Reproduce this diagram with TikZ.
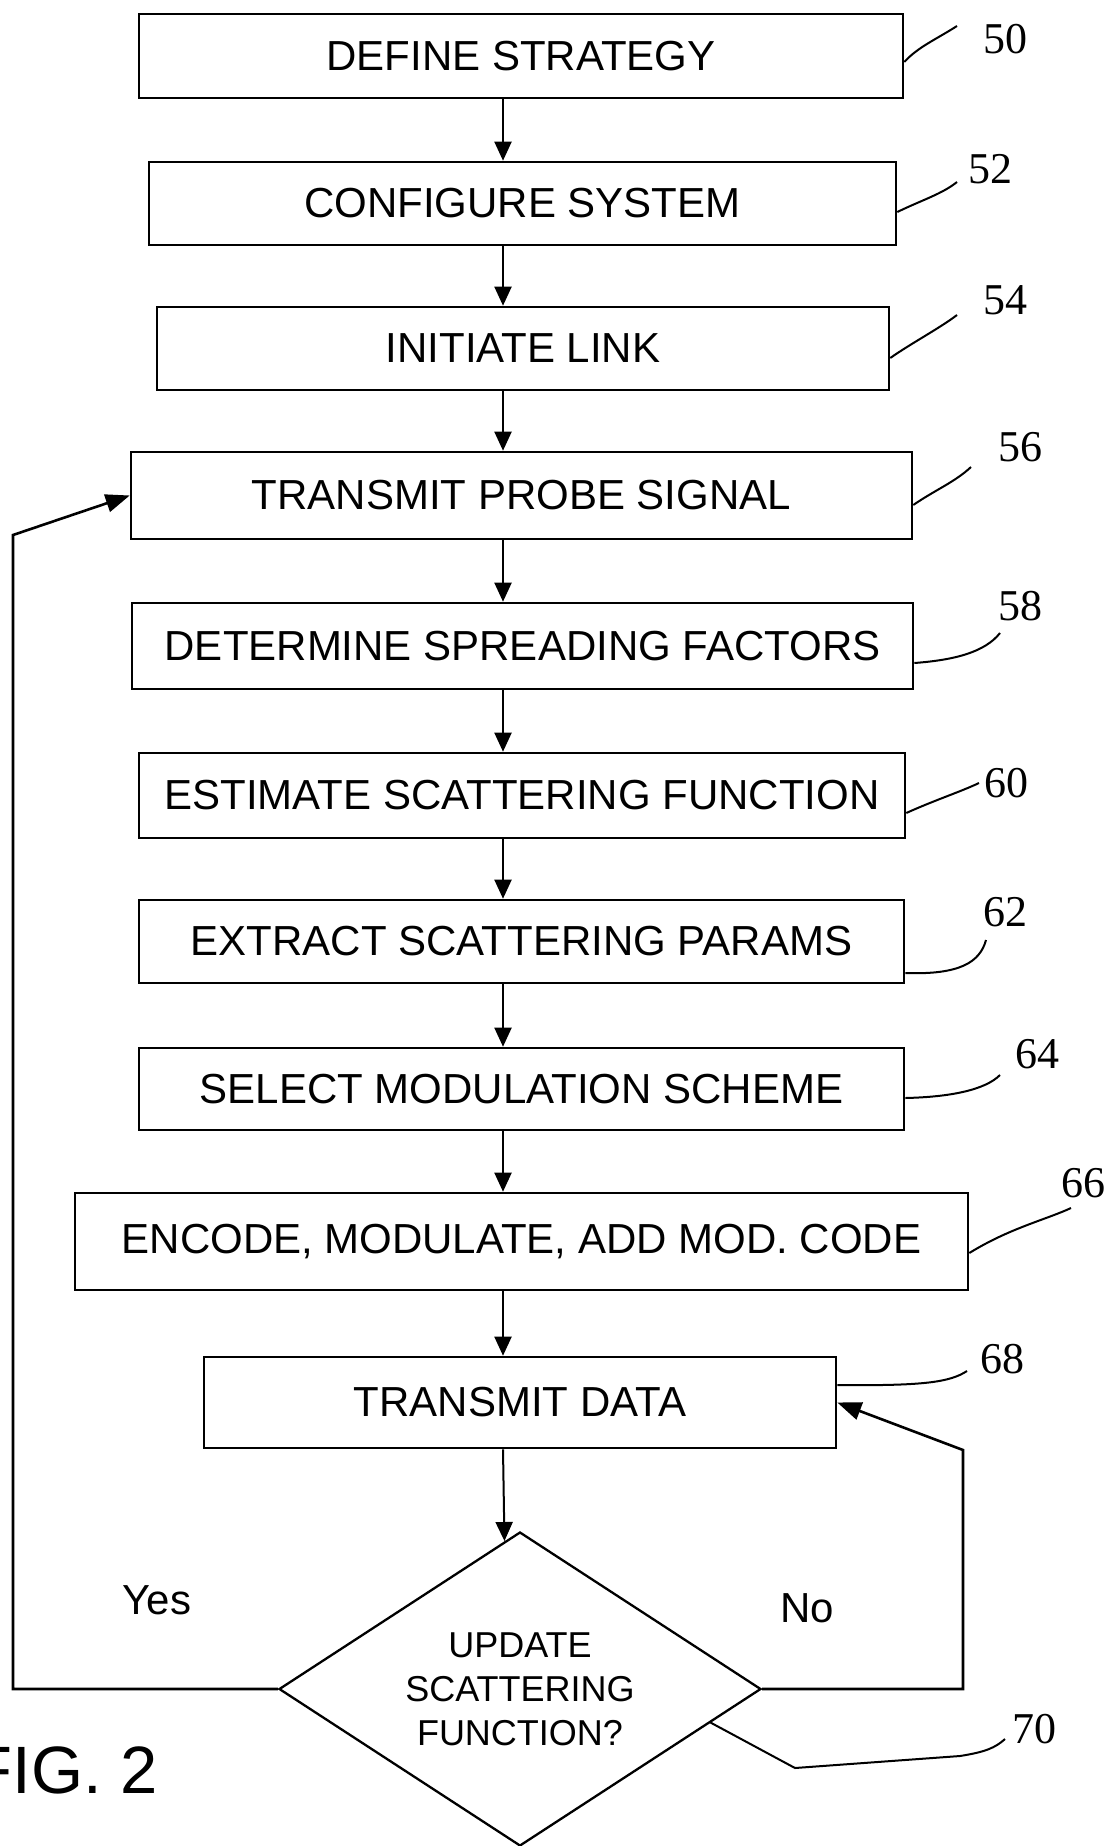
\documentclass[tikz,border=0pt]{standalone}
\usepackage{fontspec}
\setmainfont{Liberation Sans}
\newfontfamily\refnumfont{Liberation Serif}
\usetikzlibrary{arrows.meta,shapes.geometric}

\begin{document}
\begin{tikzpicture}[x=1pt,y=-1pt,
  stepbox/.style={draw, line width=2.6pt, inner sep=0pt, font=\fontsize{42}{50}\selectfont},
  dia/.style={draw, diamond, aspect=1.535, minimum width=482pt, minimum height=314pt,
    inner sep=0pt, line width=2.3pt, align=center, font=\fontsize{36}{44}\selectfont},
  flow/.style={line width=2pt, -{Triangle[length=19pt,width=17pt]}},
  back/.style={line width=2.6pt, -{Triangle[length=24pt,width=18pt]}},
  leader/.style={line width=2pt},
  refnum/.style={font=\refnumfont\fontsize{44}{50}\selectfont, inner sep=0pt},
  tag/.style={font=\fontsize{42}{50}\selectfont, inner sep=0pt}]
\useasboundingbox (0,0) rectangle (1114,1846);
\fill[white] (0,0) rectangle (1114,1846);

% process steps
\node[stepbox, minimum width=764pt, minimum height=84pt] (b1)  at (521,56)     {DEFINE STRATEGY};
\node[stepbox, minimum width=747pt, minimum height=83pt] (b2)  at (522.5,203.5) {CONFIGURE SYSTEM};
\node[stepbox, minimum width=732pt, minimum height=83pt] (b3)  at (523,348.5)  {INITIATE LINK};
\node[stepbox, minimum width=781pt, minimum height=87pt] (b4)  at (521.5,495.5) {TRANSMIT PROBE SIGNAL};
\node[stepbox, minimum width=781pt, minimum height=86pt] (b5)  at (522.5,646)  {DETERMINE SPREADING FACTORS};
\node[stepbox, minimum width=766pt, minimum height=85pt] (b6)  at (522,795.5)  {ESTIMATE SCATTERING FUNCTION};
\node[stepbox, minimum width=765pt, minimum height=83pt] (b7)  at (521.5,941.5) {EXTRACT SCATTERING PARAMS};
\node[stepbox, minimum width=765pt, minimum height=82pt] (b8)  at (521.5,1089) {SELECT MODULATION SCHEME};
\node[stepbox, minimum width=893pt, minimum height=97pt] (b9)  at (521.5,1241.5) {ENCODE, MODULATE, ADD MOD. CODE};
\node[stepbox, minimum width=632pt, minimum height=91pt] (b10) at (520,1402.5) {TRANSMIT DATA};

% decision
\node[dia] (d) at (520,1689) {UPDATE\\SCATTERING\\FUNCTION?};

% main flow, slightly left of the box centres
\coordinate (spine) at (503,0);
\draw[flow] (b1.south -| spine) -- (b2.north -| spine);
\draw[flow] (b2.south -| spine) -- (b3.north -| spine);
\draw[flow] (b3.south -| spine) -- (b4.north -| spine);
\draw[flow] (b4.south -| spine) -- (b5.north -| spine);
\draw[flow] (b5.south -| spine) -- (b6.north -| spine);
\draw[flow] (b6.south -| spine) -- (b7.north -| spine);
\draw[flow] (b7.south -| spine) -- (b8.north -| spine);
\draw[flow] (b8.south -| spine) -- (b9.north -| spine);
\draw[flow] (b9.south -| spine) -- (b10.north -| spine);
\draw[flow] (b10.south -| spine) -- (d.96.6);

% feedback loops
\coordinate (ycorner) at (13,535);
\coordinate (ncorner) at (963,1450);
\draw[back] (d.west) -| (ycorner) -- (b4.west);
\draw[back] (d.east) -| (ncorner) -- (b10.east);

\node[tag] (yes) at (157,1600) {Yes};
\node[tag] (no)  at (807,1608) {No};

% reference numerals and their leaders
\coordinate (t50) at (957,26);
\coordinate (t52) at (957,182);
\coordinate (t54) at (957,315);
\coordinate (t56) at (971,467);
\coordinate (t58) at (1000,633);
\coordinate (t60) at (979,783);
\coordinate (t62) at (986,940);
\coordinate (t64) at (1000,1075);
\coordinate (t66) at (1071,1208);
\coordinate (t68) at (967,1371);
\coordinate (t70) at (1005,1739);

\draw[leader] ([yshift=-6pt]b1.east) .. controls (918,47) and (935,40) .. (t50);
\draw[leader] ([yshift=-8.5pt]b2.east) .. controls (922,200) and (942,194) .. (t52);
\draw[leader] ([yshift=-9.5pt]b3.east) .. controls (910,344) and (940,328) .. (t54);
\draw[leader] ([yshift=-9.5pt]b4.east) .. controls (935,490) and (955,482) .. (t56);
\draw[leader] ([yshift=-17pt]b5.east) .. controls (955,660) and (985,652) .. (t58);
\draw[leader] ([yshift=-17.5pt]b6.east) .. controls (935,800) and (960,792) .. (t60);
\draw[leader] ([yshift=-31.5pt]b7.east) .. controls (960,975) and (980,962) .. (t62);
\draw[leader] ([yshift=-9pt]b8.east) .. controls (950,1097) and (985,1090) .. (t64);
\draw[leader] ([yshift=-11.5pt]b9.east) .. controls (1010,1228) and (1045,1220) .. (t66);
\draw[leader] ([yshift=17.5pt]b10.east) .. controls (925,1386) and (950,1382) .. (t68);
\draw[leader] (d.-10.6) -- (795,1768) -- (960,1756) .. controls (985,1752) and (995,1748) .. (t70);

\node[refnum] (n50) at (1005,39)   {50};
\node[refnum] (n52) at (990,169)   {52};
\node[refnum] (n54) at (1005,300)  {54};
\node[refnum] (n56) at (1020,447)  {56};
\node[refnum] (n58) at (1020,606)  {58};
\node[refnum] (n60) at (1006,783)  {60};
\node[refnum] (n62) at (1005,912)  {62};
\node[refnum] (n64) at (1037,1054) {64};
\node[refnum] (n66) at (1083,1183) {66};
\node[refnum] (n68) at (1002,1359) {68};
\node[refnum] (n70) at (1034,1729) {70};

% figure caption
\node[anchor=base east, inner sep=0pt, font=\fontsize{67}{70}\selectfont] (fig) at (158,1793) {FIG. 2};
\end{tikzpicture}
\end{document}
